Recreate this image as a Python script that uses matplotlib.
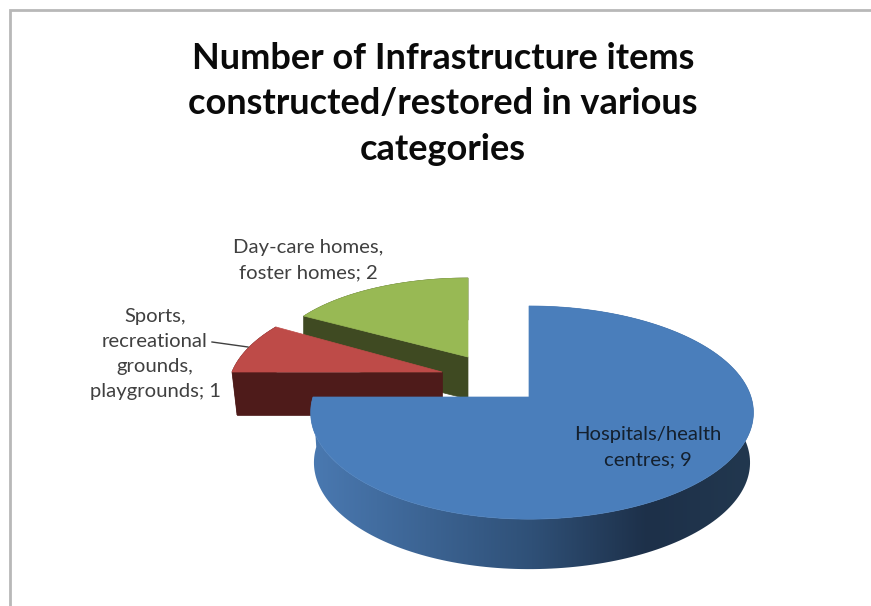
#!/usr/bin/env python3
"""Exploded 3D-look pie chart of infrastructure items per category."""

import matplotlib
matplotlib.use("Agg")
from matplotlib.colors import LinearSegmentedColormap
from matplotlib.patches import Polygon
import matplotlib.pyplot as plt
import numpy as np

TITLE = "Number of Infrastructure items\nconstructed/restored in various\ncategories"
categories = ["Hospitals/health\ncentres", "Sports,\nrecreational\ngrounds,\nplaygrounds", "Day-care homes,\nfoster homes"]
values = [9, 1, 2]

top_colors = ["#4a7ebb", "#be4b48", "#98b954"]
side_colors = [None, "#4e1b1a", "#3f4a22"]
# apex x, apex y, rx left, rx right, ry, perspective k, depth, width scale of lower rim
geometry = [
    (529, 397, 216, 222, 104.3, 0.146, 50, 0.985),
    (442, 372, 210, 210, 98.6, 0.19, 43, 0.976),
    (468, 357, 197, 197, 85.2, 0.079, 42, 1.0),
]
label_pos = [(648, 447), (155, 354), (308, 260)]
label_colors = ["#14202e", "#404040", "#404040"]


def project(theta, geo):
    ax_, ay, rxl, rxr, ry, k = geo[:6]
    u, v = np.sin(theta), np.cos(theta)
    w = 1 + k * v
    rx = np.where(u < 0, rxl, rxr)
    return ax_ + rx * u / w, ay - ry * v / w


def rim(start, end, geo):
    theta = np.radians(np.linspace(start, end, 200))
    x, y = project(theta, geo)
    return np.column_stack([x, y])


def drop(points, geo):
    # same outline, moved down to the bottom of the slice
    out = points.astype(float).copy()
    out[:, 0] = geo[0] + (out[:, 0] - geo[0]) * geo[7]
    out[:, 1] += geo[6]
    return out


def draw_slice(ax, start, end, top, side, geo, z):
    apex = np.array(geo[:2], dtype=float)
    arc = rim(start, end, geo)
    wall_pts = np.vstack([arc, drop(arc, geo)[::-1]])
    if side is None:
        # front wall with a left to right shading
        wall = Polygon(wall_pts, closed=True, fc="none", ec="none", zorder=z)
        ax.add_patch(wall)
        cmap = LinearSegmentedColormap.from_list(
            "wall", [(0, "#4a79b1"), (0.5, "#2f5077"), (0.76, "#1d3049"), (1, "#22384f")])
        im = ax.imshow(np.linspace(0, 1, 256)[None, :], cmap=cmap, aspect="auto",
                       extent=(arc[:, 0].min(), arc[:, 0].max(), 606, 0), zorder=z)
        im.set_clip_path(wall)
    else:
        # cut face along the edge that looks at the viewer
        edge = np.vstack([arc[:1], apex[None, :]])
        ax.add_patch(Polygon(np.vstack([edge, drop(edge, geo)[::-1]]), closed=True,
                             fc=side, ec=side, lw=0.5, zorder=z))
        ax.add_patch(Polygon(wall_pts, closed=True, fc=side, ec=side, lw=0.5, zorder=z))
    ax.add_patch(Polygon(np.vstack([apex, arc]), closed=True, fc=top, ec=top, lw=0.5, zorder=z + 1))


fig = plt.figure(figsize=(8.71, 6.06), dpi=100)
ax = fig.add_axes([0, 0, 1, 1])
ax.set_xlim(0, 871)
ax.set_ylim(606, 0)
ax.axis("off")

# chart frame, cut by the edges of the screenshot
ax.plot([9.5, 9.5, 871], [606, 10, 10], color="#b8b8b8", lw=2.0, solid_joinstyle="miter", zorder=1)

edges = np.cumsum([0] + values) / sum(values) * 360
for n, i in enumerate([2, 1, 0]):  # back slices first
    draw_slice(ax, edges[i], edges[i + 1], top_colors[i], side_colors[i], geometry[i], 2 + 2 * n)
ax.set_xlim(0, 871)
ax.set_ylim(606, 0)

ax.text(443, 104, TITLE, ha="center", va="center", fontsize=26, fontweight="bold",
        family="Lato", color="#0a0a0a", linespacing=1.47)

for i, name in enumerate(categories):
    x, y = label_pos[i]
    ax.text(x, y, f"{name}; {values[i]}", ha="center", va="center", fontsize=14.6, family="Lato",
            color=label_colors[i], linespacing=1.58, zorder=20)

# leader line from the sports label
ax.plot([212, 248], [342, 347], color="#404040", lw=1.0, zorder=20)

fig.savefig("out.png", dpi=100)
